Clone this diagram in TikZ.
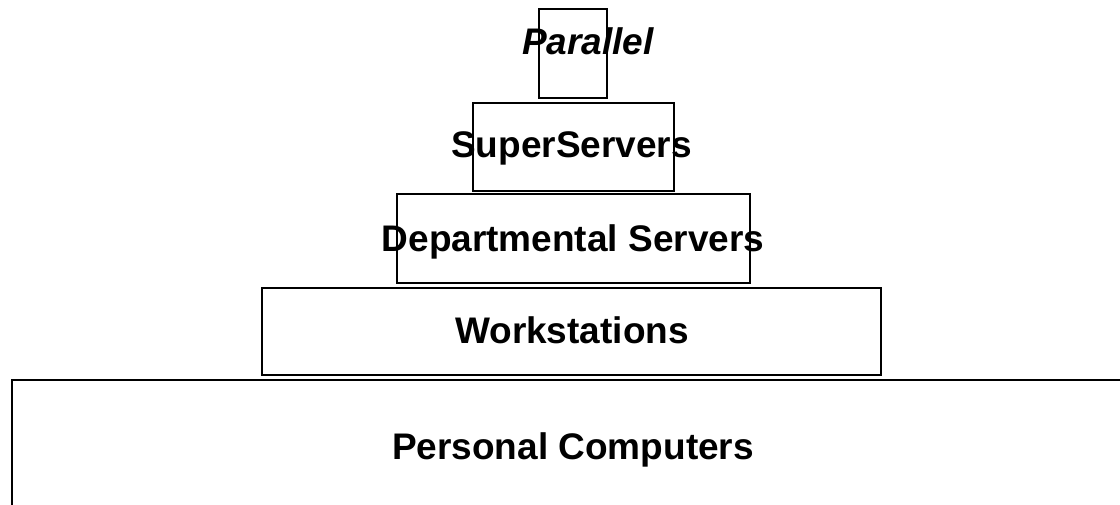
\documentclass[tikz,border=0pt]{standalone}
\usepackage{fontspec}
\setmainfont{Liberation Sans}
\usepackage{tikz}

\tikzset{
  tier/.style={draw, rectangle, line width=2pt, inner sep=0pt},
  tiername/.style={font=\fontsize{37}{44}\selectfont\bfseries, inner sep=0pt, anchor=base},
}

\begin{document}
\begin{tikzpicture}[x=1pt, y=-1pt]
        \useasboundingbox (0, 0) rectangle (1120, 505);
        \node[tier, minimum width=68pt, minimum height=89pt] (par) at (573, 53.5) {};
        \node[tier, minimum width=201pt, minimum height=88pt] (sup) at (573.5, 147) {};
        \node[tier, minimum width=353pt, minimum height=89pt] (dep) at (573.5, 238.5) {};
        \node[tier, minimum width=619pt, minimum height=87pt] (ws) at (571.5, 331.5) {};
        \node[tier, minimum width=1123pt, minimum height=140pt] (pc) at (573.5, 450) {};
        \node[tiername, font=\fontsize{37}{44}\selectfont\bfseries\itshape] (parT) at (588, 55) {Parallel};
        \node[tiername] (supT) at (571.5, 158) {SuperServers};
        \node[tiername] (depT) at (573, 252) {Departmental Servers};
        \node[tiername] (wsT) at (572, 344) {Workstations};
        \node[tiername] (pcT) at (573, 459) {Personal Computers};
    \end{tikzpicture}
\end{document}
